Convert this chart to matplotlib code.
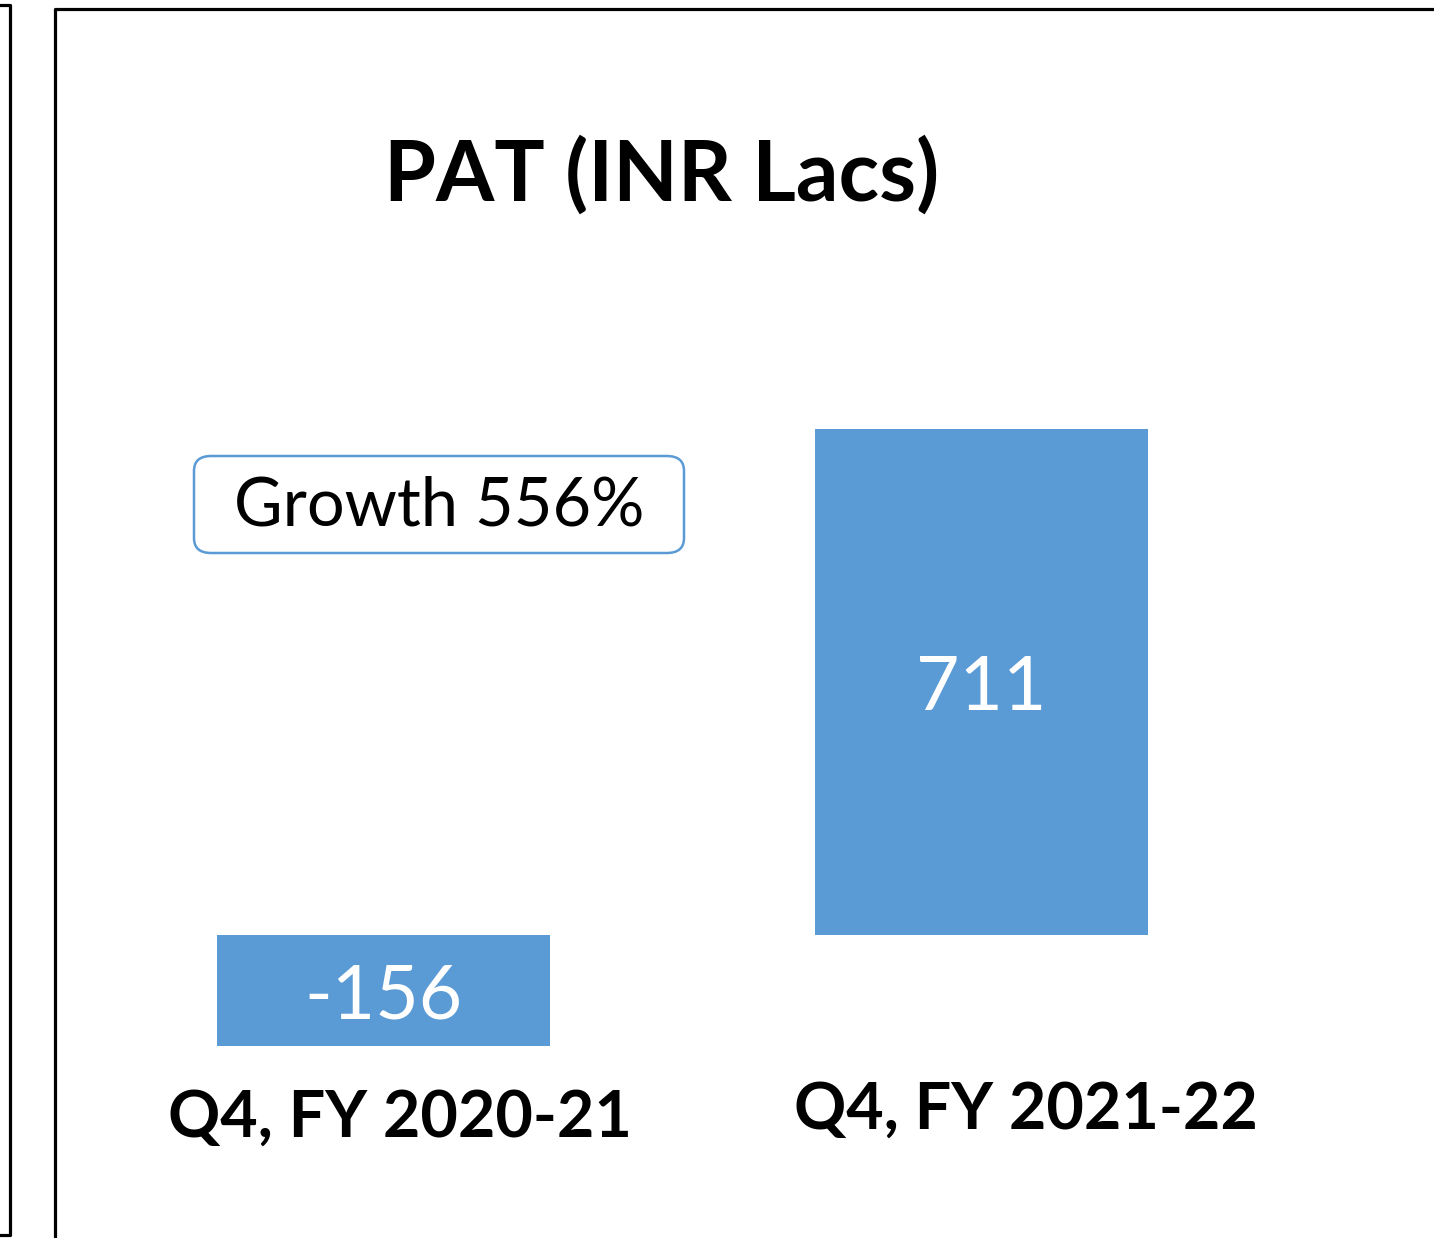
import matplotlib.pyplot as plt
from matplotlib.lines import Line2D
from matplotlib.patches import FancyBboxPatch

categories = ["Q4, FY 2020-21", "Q4, FY 2021-22"]
pat_values = [-156, 711]
title = "PAT (INR Lacs)"
growth_label = "Growth 556%"

W, H = 1434, 1238
bar_color = "#5B9BD5"
plt.rcParams['font.family'] = ['Lato', 'DejaVu Sans']

fig = plt.figure(figsize=(W / 100, H / 100), dpi=100)
fig.patch.set_facecolor("white")


def fx(px):
    return px / W


def fy(py):
    return 1 - py / H


# axes spans whole figure; limits chosen so baseline sits at y=935px
ax = fig.add_axes([0, 0, 1, 1])
ax.set_axis_off()
xs = range(len(categories))
ax.bar(xs, pat_values, width=0.557, color=bar_color)
ax.set_xlim(-383.5 / 598, (W - 383.5) / 598)
ppu = 506 / 711
ax.set_ylim(-(H - 935) / ppu, 935 / ppu)

for i, v in enumerate(pat_values):
    ax.annotate(str(v), (i, v / 2), xytext=(0, -5), textcoords="offset points",
                ha="center", va="center", color="white", fontsize=54)

# frames
lw = 2.3
fig.add_artist(Line2D([fx(0), fx(10), fx(10), fx(0)],
                      [fy(5), fy(5), fy(1235), fy(1235)], color="black", lw=lw))
fig.add_artist(Line2D([fx(55), fx(55), fx(W)],
                      [fy(H), fy(9), fy(9)], color="black", lw=lw))

fig.text(fx(662), fy(175), title, ha="center", va="center",
         fontsize=60.5, fontweight="bold")

box = FancyBboxPatch((fx(194), fy(553)), fx(684) - fx(194), fy(456) - fy(553),
                     boxstyle="round,pad=0,rounding_size=0.012",
                     transform=fig.transFigure, facecolor="white",
                     edgecolor=bar_color, lw=1.8)
fig.add_artist(box)
fig.text(fx(439), fy(507), growth_label, ha="center", va="center", fontsize=48)

fig.text(fx(400), fy(1118), categories[0], ha="center", va="center",
         fontsize=46.5, fontweight="bold")
fig.text(fx(1026), fy(1110), categories[1], ha="center", va="center",
         fontsize=46.5, fontweight="bold")

fig.savefig("out.png", dpi=100)
